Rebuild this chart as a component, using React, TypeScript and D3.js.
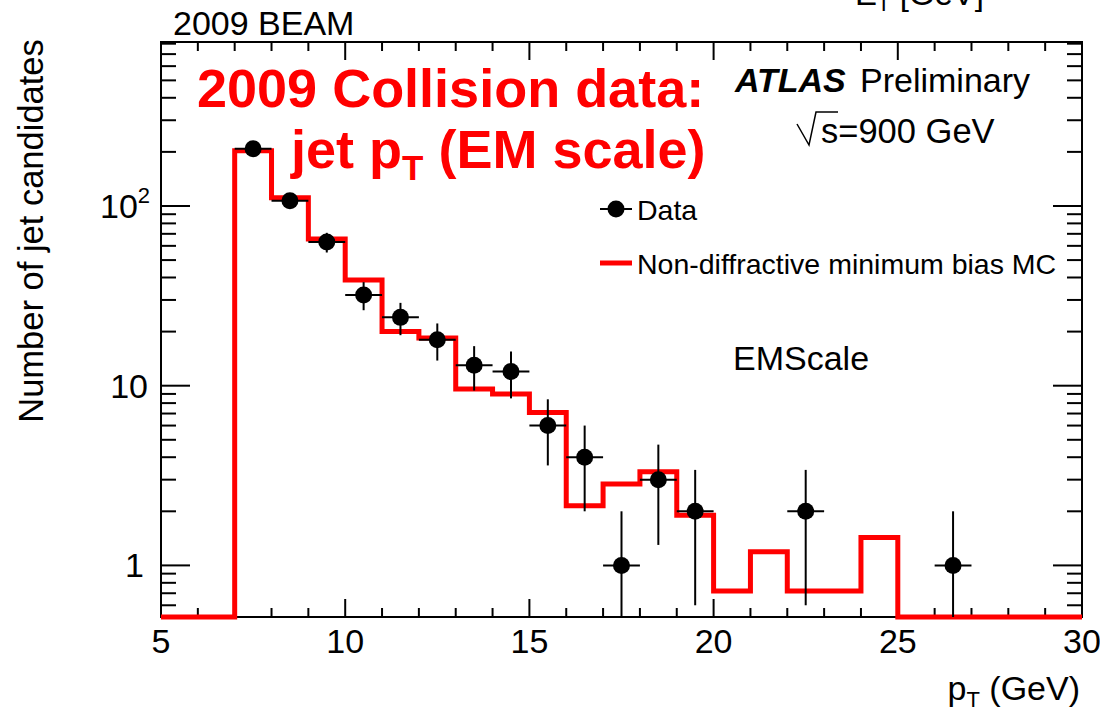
import React from "react";
import * as d3 from "d3";

// ---- data ----
const binEdges = [5, 6, 7, 8, 9, 10, 11, 12, 13, 14, 15, 16, 17, 18, 19, 20, 21, 22, 23, 24, 25, 26, 27, 28, 29, 30];
const mcValues = [0, 0, 203, 111, 65.6, 38.7, 20, 18.4, 9.6, 9.0, 7.1, 2.15, 2.84, 3.32, 1.9, 0.72, 1.19, 0.72, 0.72, 1.43, 0, 0, 0, 0, 0];
const dataX = [7.5, 8.5, 9.5, 10.5, 11.5, 12.5, 13.5, 14.5, 15.5, 16.5, 17.5, 18.5, 19.5, 22.5, 26.5];
const dataY = [208, 107, 63, 32, 24, 18, 13, 12, 6, 4, 1, 3, 2, 2, 1];
const dataErr = [14.4, 10.3, 7.9, 5.7, 4.9, 4.2, 3.6, 3.5, 2.4, 2.0, 1.0, 1.7, 1.4, 1.4, 1.0];
const xTicks = [5, 10, 15, 20, 25, 30];
const yDecades = [1, 10, 100];

const W = 1100;
const H = 713;
const L = 161, R = 1082, T = 42, B = 617;
const FONT = "'Liberation Sans', Arial, Helvetica, sans-serif";

export default function App() {
  const x = d3.scaleLinear().domain([5, 30]).range([L, R]);
  const y = d3.scaleLog().domain([0.5163, 817.5]).range([B, T]);
  const [ymin] = y.domain();
  const yc = (v: number) => y(Math.max(v, ymin));

  // minor ticks
  const xMinor = d3.range(5, 31, 1).filter((v) => v % 5 !== 0);
  const yMinor: number[] = [];
  [0.1, 1, 10, 100].forEach((d) => {
    for (let k = 2; k <= 9; k++) {
      const v = d * k;
      if (v >= ymin && v <= 817.5) yMinor.push(v);
    }
  });

  const histPts: [number, number][] = mcValues.map((v, i) => [x(binEdges[i]), yc(v)]);
  histPts.push([x(binEdges[binEdges.length - 1]), yc(mcValues[mcValues.length - 1])]);
  const histPath = d3.line().curve(d3.curveStepAfter)(histPts) || "";

  const tickStroke = { stroke: "#000", strokeWidth: 2 };

  return (
    <svg width={W} height={H} style={{ position: "absolute", left: 0, top: 0, background: "#fff" }} fontFamily={FONT}>
      <rect x={0} y={0} width={W} height={H} fill="#fff" />
      {/* clipped label from a neighbouring plot (cut at the top edge, as in the reference) */}
      <text x={855} y={5} fontSize={33} fill="#000">
        E<tspan fontSize={22} dy={6}>T</tspan>
        <tspan dy={-6}> [GeV]</tspan>
      </text>
      <text x={173} y={35} fontSize={34} fill="#000">2009 BEAM</text>

      {/* frame */}
      <rect x={L} y={T} width={R - L} height={B - T} fill="none" stroke="#000" strokeWidth={2} />

      {/* x ticks */}
      {xTicks.map((v) => (
        <g key={"xt" + v}>
          <line x1={x(v)} x2={x(v)} y1={B} y2={B - 18} {...tickStroke} />
          <line x1={x(v)} x2={x(v)} y1={T} y2={T + 18} {...tickStroke} />
          <text x={x(v)} y={653} fontSize={34} textAnchor="middle" fill="#000">{v}</text>
        </g>
      ))}
      {xMinor.map((v) => (
        <g key={"xm" + v}>
          <line x1={x(v)} x2={x(v)} y1={B} y2={B - 9} {...tickStroke} />
          <line x1={x(v)} x2={x(v)} y1={T} y2={T + 9} {...tickStroke} />
        </g>
      ))}

      {/* y ticks */}
      {yDecades.map((v) => (
        <g key={"yt" + v}>
          <line x1={L} x2={L + 29} y1={y(v)} y2={y(v)} {...tickStroke} />
          <line x1={R} x2={R - 29} y1={y(v)} y2={y(v)} {...tickStroke} />
        </g>
      ))}
      {yMinor.map((v) => (
        <g key={"ym" + v}>
          <line x1={L} x2={L + 15} y1={y(v)} y2={y(v)} {...tickStroke} />
          <line x1={R} x2={R - 15} y1={y(v)} y2={y(v)} {...tickStroke} />
        </g>
      ))}
      <text x={144} y={y(1) + 12} fontSize={34} textAnchor="end" fill="#000">1</text>
      <text x={148} y={y(10) + 12} fontSize={34} textAnchor="end" fill="#000">10</text>
      <text x={100} y={y(100) + 12} fontSize={34} fill="#000">
        10<tspan fontSize={22} dy={-15}>2</tspan>
      </text>

      {/* axis titles */}
      <text transform={`translate(43, 231) rotate(-90)`} fontSize={34.5} textAnchor="middle" fill="#000">
        Number of jet candidates
      </text>
      <text x={1080} y={700} fontSize={34} textAnchor="end" fill="#000">
        p<tspan fontSize={22} dy={7}>T</tspan>
        <tspan dy={-7}> (GeV)</tspan>
      </text>

      {/* MC histogram */}
      <path d={histPath} fill="none" stroke="#ff0000" strokeWidth={5} strokeLinejoin="miter" />

      {/* data */}
      {dataX.map((cx, i) => {
        const v = dataY[i];
        const e = dataErr[i];
        return (
          <g key={"d" + i}>
            <line x1={x(cx)} x2={x(cx)} y1={yc(v + e)} y2={yc(v - e)} stroke="#000" strokeWidth={2} />
            <line x1={x(cx - 0.5)} x2={x(cx + 0.5)} y1={y(v)} y2={y(v)} stroke="#000" strokeWidth={2} />
            <circle cx={x(cx)} cy={y(v)} r={8.5} fill="#000" />
          </g>
        );
      })}

      {/* red annotation */}
      <text x={197} y={107} fontSize={54} fontWeight="bold" fill="#ff0000">2009 Collision data:</text>
      <text x={291} y={168} fontSize={54} fontWeight="bold" fill="#ff0000">
        jet p<tspan fontSize={35} dy={12}>T</tspan>
        <tspan dy={-12}> (EM scale)</tspan>
      </text>

      {/* ATLAS label */}
      <text x={735} y={92} fontSize={34} fill="#000">
        <tspan fontWeight="bold" fontStyle="italic">ATLAS</tspan>
        <tspan x={860}>Preliminary</tspan>
      </text>
      <path d="M797,124 L809,145 L816,112 L838,112" fill="none" stroke="#000" strokeWidth={1.5} />
      <text x={821} y={143} fontSize={34.5} fill="#000">s=900 GeV</text>

      {/* legend */}
      <line x1={600} x2={632} y1={209} y2={209} stroke="#000" strokeWidth={2} />
      <circle cx={616} cy={209} r={8.5} fill="#000" />
      <text x={637} y={220} fontSize={28.5} fill="#000">Data</text>
      <line x1={600} x2={632} y1={263} y2={263} stroke="#ff0000" strokeWidth={5} />
      <text x={637} y={274} fontSize={28.5} fill="#000">Non-diffractive minimum bias MC</text>

      <text x={733} y={370} fontSize={34} fill="#000">EMScale</text>
    </svg>
  );
}
